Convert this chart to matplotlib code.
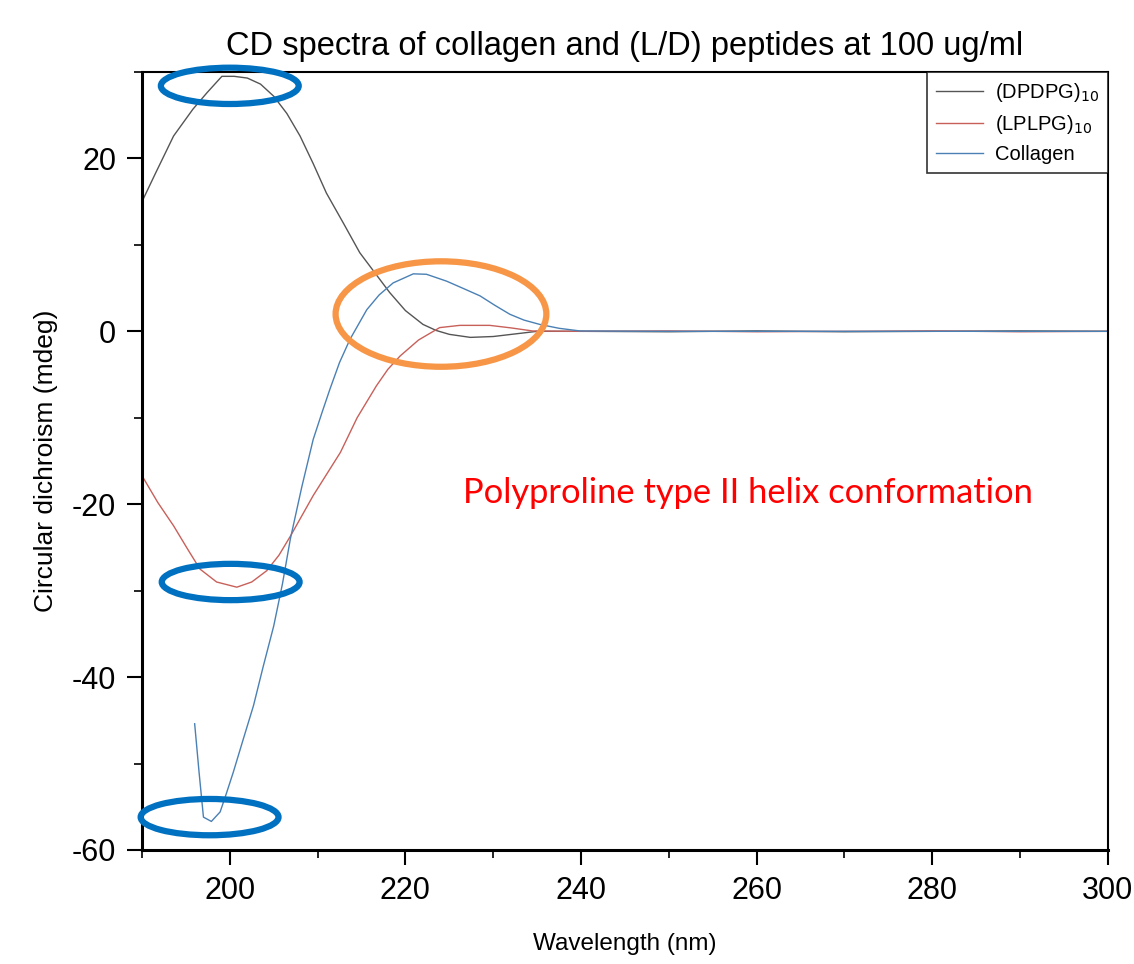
import matplotlib.pyplot as plt
from matplotlib.patches import Ellipse
from matplotlib.ticker import MultipleLocator

plt.rcParams['axes.unicode_minus'] = False

# spectra (wavelength in nm, CD in mdeg)
wl_dpdpg = [190, 191.5, 193.6, 195.8, 197.4, 199.1, 200.5, 202, 203.5, 205, 206.5, 208,
            209.5, 211, 213, 214.8, 216.5, 218.2, 220, 222, 223.5, 225, 227.4, 230,
            232.5, 235, 240, 250, 260, 270, 280, 290, 300]
cd_dpdpg = [15.0, 18.2, 22.6, 25.7, 27.6, 29.5, 29.5, 29.3, 28.6, 27.2, 25.2, 22.6,
            19.4, 16.0, 12.4, 9.1, 6.8, 4.5, 2.4, 0.8, 0.1, -0.35, -0.7, -0.6,
            -0.3, 0.0, 0.0, -0.05, 0.05, -0.05, 0.0, 0.05, 0.0]

wl_lplpg = [190, 191.8, 193.6, 195.2, 196.6, 198.5, 200.8, 202.5, 204.2, 205.6, 206.9,
            209.5, 212.6, 214.5, 216.7, 218, 219.4, 221.5, 223.9, 226.2, 229.6, 232,
            234.5, 240, 250, 260, 270, 280, 290, 300]
cd_lplpg = [-16.7, -19.8, -22.5, -25.2, -27.5, -29.0, -29.6, -29.0, -27.7, -25.9, -23.7,
            -19.0, -14.0, -10.0, -6.3, -4.4, -2.85, -1.0, 0.43, 0.69, 0.69, 0.4,
            0.04, 0.0, 0.05, -0.05, 0.0, 0.05, -0.05, 0.0]

wl_coll = [196.0, 196.5, 197.0, 197.9, 198.9, 199.6, 200.4, 201.5, 202.7, 203.8, 205.0,
           206.0, 206.9, 208.2, 209.5, 210.5, 211.4, 212.5, 213.7, 215.6, 217.0,
           218.6, 220.9, 222.4, 224.7, 226.5, 228.5, 230.2, 231.9, 233.5, 235.3,
           237.5, 239.9, 250, 260, 270, 280, 290, 300]
cd_coll = [-45.4, -51.0, -56.2, -56.7, -55.6, -53.5, -51.0, -47.3, -43.3, -38.8, -34.1,
           -29.2, -24.0, -18.0, -12.5, -9.4, -6.7, -3.6, -0.9, 2.5, 4.2,
           5.6, 6.65, 6.6, 5.8, 5.0, 4.1, 3.0, 1.97, 1.3, 0.8,
           0.35, 0.04, 0.0, 0.0, 0.0, 0.0, 0.0, 0.0]

fig = plt.figure(figsize=(11.34, 9.64), dpi=100)
ax = fig.add_axes([0.1252, 0.1183, 0.8518, 0.807])

ax.plot(wl_dpdpg, cd_dpdpg, color='#555555', lw=1.0, label='(DPDPG)$_{10}$')
ax.plot(wl_lplpg, cd_lplpg, color='#c8605a', lw=1.0, label='(LPLPG)$_{10}$')
ax.plot(wl_coll, cd_coll, color='#4a80b4', lw=1.0, label='Collagen')

ax.set_xlim(190, 300)
ax.set_ylim(-60, 30)
ax.xaxis.set_major_locator(MultipleLocator(20))
ax.xaxis.set_minor_locator(MultipleLocator(10))
ax.yaxis.set_major_locator(MultipleLocator(20))
ax.yaxis.set_minor_locator(MultipleLocator(10))
ax.tick_params(which='major', direction='out', length=10.5, width=1.5, labelsize=22, pad=8)
ax.tick_params(which='minor', direction='out', length=5.5, width=1.2)
for lab in ax.get_xticklabels() + ax.get_yticklabels():
    lab.set_family('Liberation Sans')
for s in ax.spines.values():
    s.set_linewidth(1.5)
ax.spines['left'].set_linewidth(2.2)
ax.spines['bottom'].set_linewidth(2.2)

ax.set_xlabel('Wavelength (nm)', fontsize=17.5, family='Liberation Sans', labelpad=20)
ax.set_ylabel('Circular dichroism (mdeg)', fontsize=19, family='Liberation Sans', labelpad=10)
ax.set_title('CD spectra of collagen and (L/D) peptides at 100 ug/ml', fontsize=23.5,
             family='Liberation Sans', pad=12)

leg = ax.legend(loc='upper right', frameon=True, fancybox=False,
                borderaxespad=0, handlelength=2.3, handletextpad=0.6,
                labelspacing=0.45, borderpad=0.45,
                prop={'family': 'Liberation Sans', 'size': 14.5})
leg.get_frame().set_edgecolor('black')
leg.get_frame().set_linewidth(1.2)

# annotation ellipses
for cx, cy in [(200.0, 28.4), (200.1, -29.0), (197.7, -56.2)]:
    ax.add_patch(Ellipse((cx, cy), 15.7, 4.2, fill=False, edgecolor='#0070c0',
                         lw=4.5, clip_on=False, zorder=5))
ax.add_patch(Ellipse((224.05, 2.0), 24.0, 12.2, fill=False, edgecolor='#f79646',
                     lw=4.5, clip_on=False, zorder=5))

ax.text(226.6, -18.7, 'Polyproline type II helix conformation', color='#ff0000',
        fontsize=24.8, family='Lato', va='center', ha='left')

fig.savefig('out.png', dpi=100)
